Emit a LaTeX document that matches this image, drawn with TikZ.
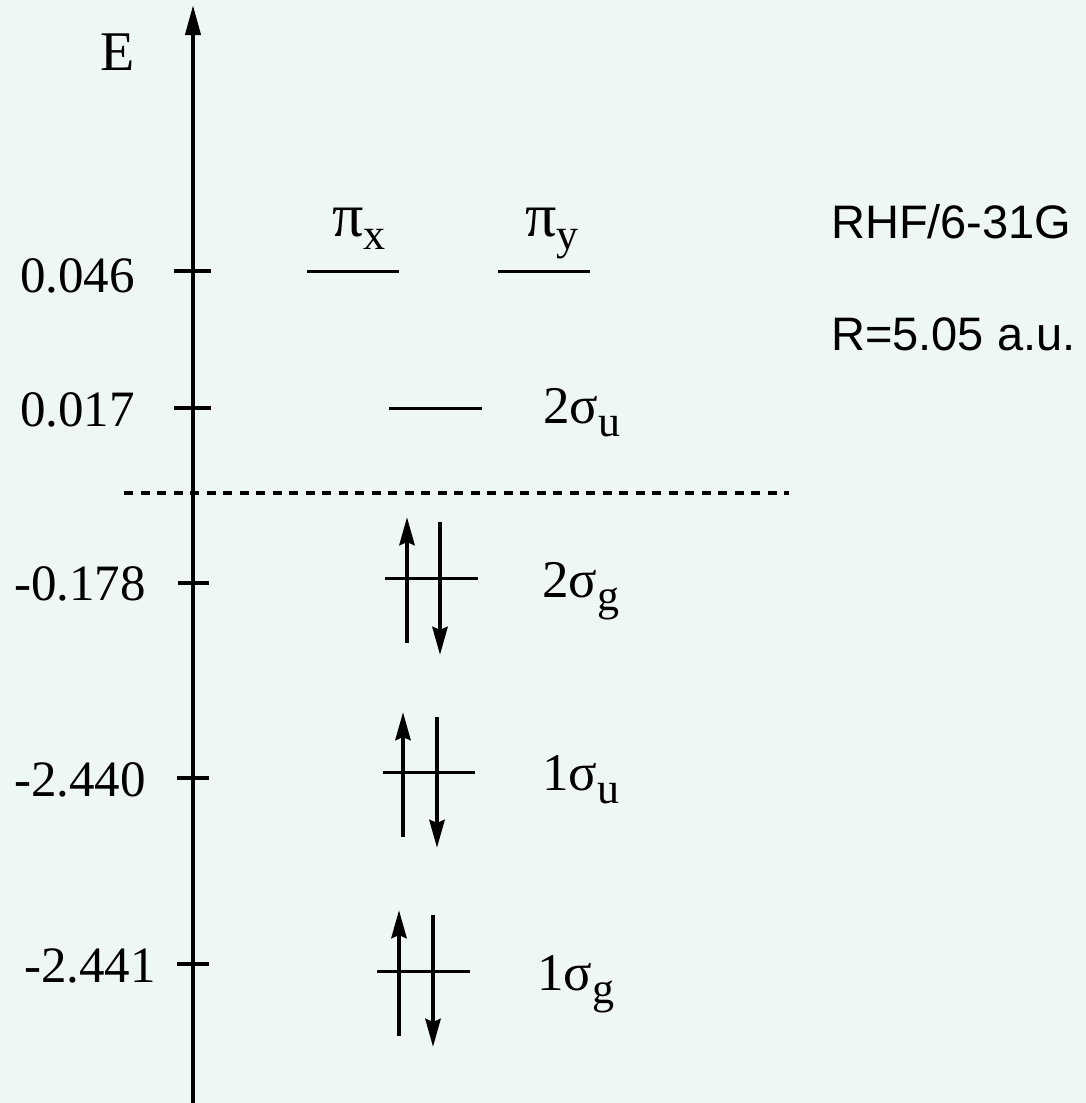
\documentclass[tikz,border=0pt]{standalone}
\usepackage{fontspec}
\setmainfont{Liberation Serif}
\newfontfamily\labelsans{Liberation Sans}
\usetikzlibrary{arrows.meta}
\definecolor{bg}{RGB}{238,247,242}
\newcommand{\lsub}[1]{\raisebox{-13pt}{\fontsize{44}{44}\selectfont #1}}
\newcommand{\bigpi}{{\fontsize{62}{62}\selectfont π}}
\begin{document}
\begin{tikzpicture}[x=1pt,y=-1pt,
  axisline/.style={line width=4pt,-{Triangle[length=30pt,width=15pt]}},
  tickmark/.style={line width=3.5pt},
  mo/.style={line width=3pt},
  electron/.style={line width=4.5pt,-{Stealth[length=28pt,width=15pt,inset=3pt]}},
  numlbl/.style={inner sep=0pt,anchor=base west,font=\fontsize{51}{51}\selectfont},
  orblbl/.style={inner sep=0pt,anchor=base west,font=\fontsize{53}{53}\selectfont},
  pilbl/.style={inner sep=0pt,anchor=base,font=\fontsize{54}{54}\selectfont},
  info/.style={inner sep=0pt,anchor=base west,font=\labelsans\fontsize{47}{47}\selectfont},
  fermi/.style={line width=3.5pt,dash pattern=on 9pt off 7.5pt}]
\fill[bg] (0,0) rectangle (1086,1103);
\useasboundingbox (0,0) rectangle (1086,1103);

% energy axis
\coordinate (axb) at (193,1103);
\coordinate (axt) at (193,5);
\draw[axisline] (axb) -- (axt);
\node[inner sep=0pt,anchor=base west,font=\fontsize{56}{56}\selectfont] (E) at (100,70) {E};

% ticks
\coordinate (t1a) at (174,271); \coordinate (t1b) at (211,271);
\coordinate (t2a) at (174,408); \coordinate (t2b) at (211,408);
\coordinate (t3a) at (178,583); \coordinate (t3b) at (209,583);
\coordinate (t4a) at (177,778); \coordinate (t4b) at (209,778);
\coordinate (t5a) at (177,964); \coordinate (t5b) at (209,964);
\foreach \i in {1,...,5} \draw[tickmark] (t\i a) -- (t\i b);

\node[numlbl] (n1) at (20,292) {0.046};
\node[numlbl] (n2) at (20,426) {0.017};
\node[numlbl] (n3) at (14,600) {-0.178};
\node[numlbl] (n4) at (14,796) {-2.440};
\node[numlbl] (n5) at (24,982) {-2.441};

% Fermi level
\coordinate (fa) at (124,493); \coordinate (fb) at (789,493);
\draw[fermi] (fa) -- (fb);

% pi levels
\coordinate (pxa) at (307,271); \coordinate (pxb) at (399,271);
\coordinate (pya) at (498,271); \coordinate (pyb) at (590,271);
\draw[mo] (pxa) -- (pxb);
\draw[mo] (pya) -- (pyb);
\node[pilbl] (px) at (359,236) {\bigpi\lsub{x}};
\node[pilbl] (py) at (552,236) {\bigpi\lsub{y}};

% 2 sigma u
\coordinate (su2a) at (389,408); \coordinate (su2b) at (482,408);
\draw[mo] (su2a) -- (su2b);
\node[orblbl] (l2su) at (543,423) {2σ\lsub{u}};

% 2 sigma g
\coordinate (sg2a) at (385,578); \coordinate (sg2b) at (478,578);
\draw[mo] (sg2a) -- (sg2b);
\coordinate (e1s) at (407,643); \coordinate (e1t) at (407,517);
\coordinate (e2s) at (440,522); \coordinate (e2t) at (440,655);
\draw[electron] (e1s) -- (e1t);
\draw[electron] (e2s) -- (e2t);
\node[orblbl] (l2sg) at (542,597) {2σ\lsub{g}};

% 1 sigma u
\coordinate (su1a) at (383,772); \coordinate (su1b) at (475,772);
\draw[mo] (su1a) -- (su1b);
\coordinate (e3s) at (403,837); \coordinate (e3t) at (403,712);
\coordinate (e4s) at (437,717); \coordinate (e4t) at (437,848);
\draw[electron] (e3s) -- (e3t);
\draw[electron] (e4s) -- (e4t);
\node[orblbl] (l1su) at (542,790) {1σ\lsub{u}};

% 1 sigma g
\coordinate (sg1a) at (377,971); \coordinate (sg1b) at (470,971);
\draw[mo] (sg1a) -- (sg1b);
\coordinate (e5s) at (399,1036); \coordinate (e5t) at (399,910);
\coordinate (e6s) at (433,915); \coordinate (e6t) at (433,1047);
\draw[electron] (e5s) -- (e5t);
\draw[electron] (e6s) -- (e6t);
\node[orblbl] (l1sg) at (537,990) {1σ\lsub{g}};

% method info
\node[info] (m1) at (831,238) {RHF/6-31G};
\node[info] (m2) at (831,350) {R=5.05 a.u.};
\end{tikzpicture}
\end{document}
